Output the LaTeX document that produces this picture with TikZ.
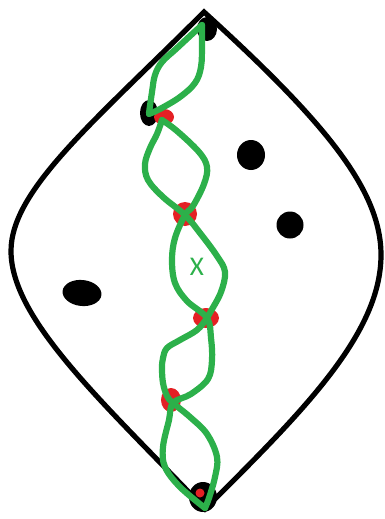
\documentclass[tikz,border=0pt]{standalone}
\usepackage{fontspec}
\newfontfamily\labelfont{Carlito}
\definecolor{leafgreen}{RGB}{44,176,74}
\definecolor{spotred}{RGB}{228,32,36}
\tikzset{
  outline/.style={line width=5.2pt, line join=miter, black},
  strand/.style={line width=6.2pt, leafgreen, line cap=round, line join=round},
  blob/.style={fill=black},
  redspot/.style={fill=spotred},
}
\begin{document}
\begin{tikzpicture}[x=1pt,y=-1pt]
\useasboundingbox (0,0) rectangle (385,519);
% outer lens
\draw[outline] (204,12) .. controls (94,122) and (11,190) .. (11,251)
  .. controls (11,320) and (105,404) .. (205,509)
  .. controls (300,414) and (381,335) .. (381,255)
  .. controls (381,190) and (325,122) .. cycle;
% black blobs
\fill[blob] (207,29) ellipse [x radius=10, y radius=12];
\fill[blob] (149,113) ellipse [x radius=9, y radius=13];
\fill[blob] (251,155) ellipse [x radius=14, y radius=15];
\fill[blob] (290,225) ellipse [x radius=13.5, y radius=13.5];
\fill[blob, rotate around={-6:(82,293)}] (82,293) ellipse [x radius=19.5, y radius=13];
\fill[blob] (203,497) ellipse [x radius=14, y radius=15];
% red spots
\fill[redspot] (164,117) ellipse [x radius=10, y radius=8];
\fill[redspot] (185,214) ellipse [x radius=12, y radius=12];
\fill[redspot] (206,318) ellipse [x radius=13, y radius=10];
\fill[redspot] (171,400) ellipse [x radius=10, y radius=12];
\fill[redspot] (200,493) ellipse [x radius=4.5, y radius=4.5];
% green chain: top leaf
\draw[strand] plot[smooth, tension=0.6] coordinates {(202,25) (190,36) (176,49) (162,62) (155,75) (152,92) (149,113)};
\draw[strand] plot[smooth, tension=0.6] coordinates {(202,25) (202,45) (201,67) (195,83) (180,97) (160,109) (149,114)};
% two crossing strands
\draw[strand] plot[smooth, tension=0.6] coordinates {(162,120) (157,134) (150,148) (145,164) (148,180) (163,197) (185,215) (200,233) (217,256) (225,272) (221,292) (211,311) (207,318) (197,330) (180,340) (167,348) (163,358) (162,368) (163,383) (167,396) (173,403) (190,417) (207,434) (217,457) (215,477) (209,498) (205,508)};
\draw[strand] plot[smooth, tension=0.6] coordinates {(162,120) (177,131) (199,152) (207,167) (204,184) (193,206) (185,215) (175,238) (172,260) (175,283) (187,301) (207,318) (211,338) (212,360) (208,379) (191,394) (173,403) (169,420) (163,447) (165,467) (180,487) (205,508)};
% label
\node[text=leafgreen, font=\labelfont\fontsize{27}{27}\selectfont, inner sep=0pt] (xlabel) at (197,267) {X};
\end{tikzpicture}
\end{document}
